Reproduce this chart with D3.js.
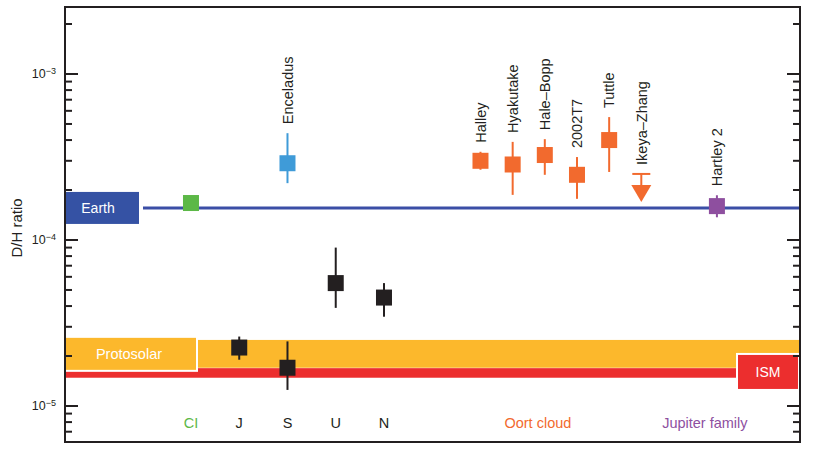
<!DOCTYPE html>
<html>
<head>
<meta charset="utf-8">
<script src="https://cdn.jsdelivr.net/npm/d3@7"></script>
<style>
  html, body { margin: 0; padding: 0; background: #fff; }
  svg { display: block; font-family: "Liberation Sans", Arial, Helvetica, sans-serif; }
</style>
</head>
<body>
<svg id="chart" width="818" height="453"></svg>
<script>
// ---------------- data ----------------
const objects   = ["CI", "J", "S", "U", "N", "Enceladus", "Halley", "Hyakutake", "Hale–Bopp", "2002T7", "Tuttle", "Ikeya–Zhang", "Hartley 2"];
const slot      = [0, 1, 2, 3, 4, 2, 6, 6.667, 7.333, 8, 8.667, 9.333, 10.9];
const group     = ["CI", "planet", "planet", "planet", "planet", "moon", "oort", "oort", "oort", "oort", "oort", "oort", "jfc"];
const dhValue   = [1.67e-4, 2.25e-5, 1.7e-5, 5.5e-5, 4.5e-5, 2.9e-4, 3.0e-4, 2.85e-4, 3.25e-4, 2.47e-4, 4.0e-4, 2.5e-4, 1.6e-4];
const dhLow     = [null, 1.9e-5, 1.25e-5, 3.9e-5, 3.45e-5, 2.2e-4, 2.65e-4, 1.87e-4, 2.47e-4, 1.77e-4, 2.57e-4, null, 1.37e-4];
const dhHigh    = [null, 2.62e-5, 2.45e-5, 9.0e-5, 5.5e-5, 4.4e-4, 3.4e-4, 3.9e-4, 4.05e-4, 3.16e-4, 5.5e-4, null, 1.86e-4];
const upperLimit = [false, false, false, false, false, false, false, false, false, false, false, true, false];
const topLabel  = [false, false, false, false, false, true, true, true, true, true, true, true, true];
const bottomLabels = ["CI", "J", "S", "U", "N"];
const groupLabels  = ["Oort cloud", "Jupiter family"];
const groupLabelSlot = [7.19, 10.65];
const groupLabelKey  = ["oort", "jfc"];

const earthDH = 1.56e-4;
const protosolarBand = [1.7e-5, 2.5e-5];
const ismBand = [1.48e-5, 1.69e-5];

const yTickMajors = [1e-5, 1e-4, 1e-3];
const yTickLabelsExp = ["−5", "−4", "−3"];
const yTitle = "D/H ratio";

// ---------------- styles ----------------
const colors = {
  CI: "#5cb847", planet: "#231f20", moon: "#3f9bd8", oort: "#f26a2e", jfc: "#8e4f9f",
  earth: "#3552a4", earthLine: "#3b4ea6", proto: "#fcb82c", ism: "#ec2e2e"
};

const W = 818, H = 453;
const margin = { left: 65, top: 7, right: 18, bottom: 11 };
const iw = W - margin.left - margin.right;
const ih = H - margin.top - margin.bottom;

const svg = d3.select("#chart");
const g = svg.append("g").attr("transform", `translate(${margin.left},${margin.top})`);

const y = d3.scaleLog().domain([Math.pow(10, -5.2169), Math.pow(10, -2.5964)]).range([ih, 0]);
const x = d3.scaleLinear().domain([-2.611, 12.622]).range([0, iw]);

// ---------- reference bands ----------
g.append("rect").attr("x", 0).attr("width", iw)
  .attr("y", y(ismBand[1])).attr("height", y(ismBand[0]) - y(ismBand[1]))
  .attr("fill", colors.ism);
g.append("rect").attr("x", 0).attr("width", iw)
  .attr("y", y(protosolarBand[1])).attr("height", y(protosolarBand[0]) - y(protosolarBand[1]))
  .attr("fill", colors.proto);

// Earth line
g.append("line").attr("x1", 78).attr("x2", iw)
  .attr("y1", y(earthDH)).attr("y2", y(earthDH))
  .attr("stroke", colors.earthLine).attr("stroke-width", 3);

// Earth box
const earthY = y(earthDH);
g.append("rect").attr("x", 0).attr("y", earthY - 16).attr("width", 74).attr("height", 32)
  .attr("fill", colors.earth);
g.append("text").attr("x", 33).attr("y", earthY).attr("dy", "0.36em")
  .attr("text-anchor", "middle").attr("fill", "#fff").attr("font-size", 14).text("Earth");

// Protosolar box
const protoMid = (y(protosolarBand[0]) + y(protosolarBand[1])) / 2;
g.append("rect").attr("x", -1).attr("y", protoMid - 17).attr("width", 133).attr("height", 34)
  .attr("fill", colors.proto).attr("stroke", "#fff").attr("stroke-width", 2);
g.append("text").attr("x", 64).attr("y", protoMid).attr("dy", "0.36em")
  .attr("text-anchor", "middle").attr("fill", "#fff").attr("font-size", 14.5).text("Protosolar");

// ISM box
const ismMid = (y(ismBand[0]) + y(ismBand[1])) / 2;
g.append("rect").attr("x", iw - 63).attr("y", ismMid - 19).attr("width", 62).attr("height", 36)
  .attr("fill", colors.ism).attr("stroke", "#fff").attr("stroke-width", 2);
g.append("text").attr("x", iw - 32).attr("y", ismMid - 1).attr("dy", "0.36em")
  .attr("text-anchor", "middle").attr("fill", "#fff").attr("font-size", 14).text("ISM");

// ---------- data marks ----------
const data = objects.map((name, i) => ({
  name, slot: slot[i], group: group[i], v: dhValue[i], lo: dhLow[i], hi: dhHigh[i],
  ul: upperLimit[i], top: topLabel[i]
}));

const sq = 16;
// error bars
g.selectAll(".err").data(data.filter(d => d.lo != null)).join("line")
  .attr("class", "err")
  .attr("x1", d => x(d.slot)).attr("x2", d => x(d.slot))
  .attr("y1", d => y(d.hi)).attr("y2", d => y(d.lo))
  .attr("stroke", d => colors[d.group]).attr("stroke-width", 2);

// squares
g.selectAll(".pt").data(data.filter(d => !d.ul)).join("rect")
  .attr("class", "pt")
  .attr("x", d => x(d.slot) - sq / 2).attr("y", d => y(d.v) - sq / 2)
  .attr("width", sq).attr("height", sq)
  .attr("fill", d => colors[d.group]);

// upper limit marker
data.filter(d => d.ul).forEach(d => {
  const cx = x(d.slot), cy = y(d.v);
  g.append("line").attr("x1", cx - 9).attr("x2", cx + 9).attr("y1", cy).attr("y2", cy)
    .attr("stroke", colors[d.group]).attr("stroke-width", 2);
  g.append("line").attr("x1", cx).attr("x2", cx).attr("y1", cy).attr("y2", cy + 12)
    .attr("stroke", colors[d.group]).attr("stroke-width", 2);
  g.append("path")
    .attr("d", `M${cx - 10},${cy + 11} L${cx + 10},${cy + 11} L${cx},${cy + 28} Z`)
    .attr("fill", colors[d.group]);
});

// rotated labels
g.selectAll(".rlab").data(data.filter(d => d.top)).join("text")
  .attr("class", "rlab")
  .attr("transform", d => `translate(${x(d.slot)},${y(d.hi != null ? d.hi : d.v) - 9}) rotate(-90)`)
  .attr("dy", "0.36em")
  .attr("font-size", 14.5).attr("fill", "#231f20")
  .text(d => d.name);

// bottom labels
const baseY = 416;
g.selectAll(".blab").data(data.filter(d => bottomLabels.includes(d.name))).join("text")
  .attr("class", "blab")
  .attr("x", d => x(d.slot)).attr("y", baseY).attr("dy", "0.36em")
  .attr("text-anchor", "middle").attr("font-size", 14.5)
  .attr("fill", d => colors[d.group])
  .text(d => d.name);

g.selectAll(".glab").data(groupLabels).join("text")
  .attr("class", "glab")
  .attr("x", (d, i) => x(groupLabelSlot[i])).attr("y", baseY).attr("dy", "0.36em")
  .attr("text-anchor", "middle").attr("font-size", 14.5)
  .attr("fill", (d, i) => colors[groupLabelKey[i]])
  .text(d => d);

// ---------- axes ----------
const allTicks = [];
for (let e = -6; e <= -3; e++) {
  for (let m = 1; m <= 9; m++) {
    const v = m * Math.pow(10, e);
    if (v >= y.domain()[0] && v <= y.domain()[1]) allTicks.push(v);
  }
}
const isMajor = v => Math.abs(Math.log10(v) - Math.round(Math.log10(v))) < 1e-9;

const tickG = g.append("g");
allTicks.forEach(v => {
  const len = isMajor(v) ? 13 : 7;
  tickG.append("line").attr("x1", 0).attr("x2", len).attr("y1", y(v)).attr("y2", y(v))
    .attr("stroke", "#231f20").attr("stroke-width", 2);
  tickG.append("line").attr("x1", iw).attr("x2", iw - len).attr("y1", y(v)).attr("y2", y(v))
    .attr("stroke", "#231f20").attr("stroke-width", 2);
});

yTickMajors.forEach((v, i) => {
  const t = g.append("text").attr("x", -9).attr("y", y(v)).attr("dy", "0.36em")
    .attr("text-anchor", "end").attr("font-size", 12.5).attr("fill", "#231f20");
  t.append("tspan").text("10");
  t.append("tspan").attr("font-size", 9).attr("dy", "-0.55em").text(yTickLabelsExp[i]);
});

svg.append("text")
  .attr("transform", `translate(17,${margin.top + 221}) rotate(-90)`)
  .attr("dy", "0.36em").attr("text-anchor", "middle")
  .attr("font-size", 15).attr("fill", "#231f20").text(yTitle);

// frame
g.append("rect").attr("x", 0).attr("y", 0).attr("width", iw).attr("height", ih)
  .attr("fill", "none").attr("stroke", "#231f20").attr("stroke-width", 2);
</script>
</body>
</html>
